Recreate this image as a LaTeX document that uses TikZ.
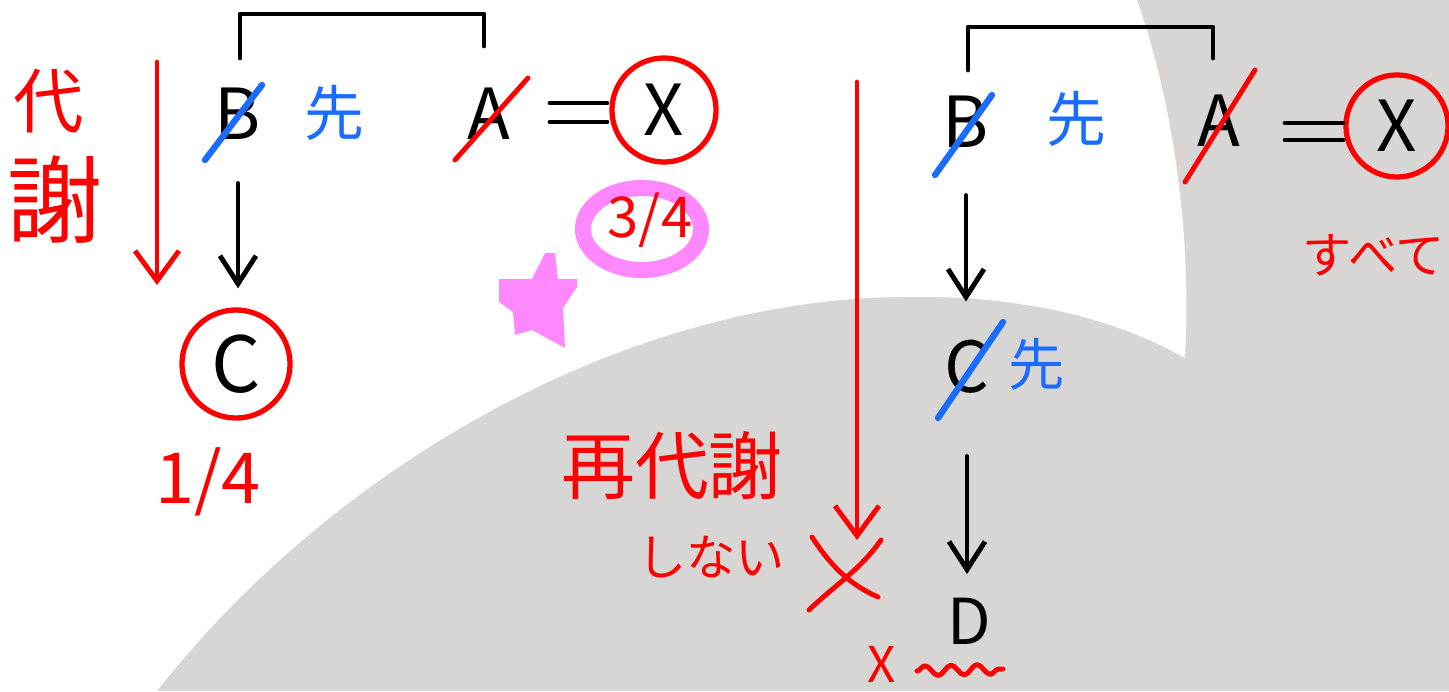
\documentclass[tikz,border=0pt]{standalone}
\usepackage{fontspec}
\setmainfont{Noto Sans CJK JP}
\usepackage{tikz}
\usetikzlibrary{arrows.meta, decorations.pathmorphing}
\definecolor{markRed}{RGB}{255, 0, 0}
\definecolor{markBlue}{RGB}{26, 108, 255}
\definecolor{markPink}{RGB}{255, 136, 255}
\definecolor{paperGray}{RGB}{216, 213, 213}

\begin{document}
\begin{tikzpicture}[x=0.01cm, y=-0.01cm,
    pen/.style={line width=1.4pt, line cap=round, line join=round},
    redpen/.style={pen, draw=markRed},
    bluepen/.style={line width=1.8pt, line cap=round, draw=markBlue},
    letter/.style={inner sep=0pt, font=\fontsize{20}{24}\selectfont},
    circled/.style={letter, circle, draw=markRed, line width=1.5pt, minimum size=1.04cm},
    note/.style={inner sep=0pt, text=markRed},
    barb/.style={-{Straight Barb[length=2.8mm, width=3.6mm]}},
    bigbarb/.style={-{Straight Barb[length=3mm, width=4.4mm]}}]
    % Background (white sheet over a gray disc)
    \fill[paperGray] (0,0) rectangle (1449,691);
    \fill[white] (0,0) -- (1137,0) .. controls (1172,100) and (1192,230) .. (1185,358)
        .. controls (1100,310) and (1000,295) .. (900,297)
        .. controls (620,300) and (330,470) .. (157,691)
        -- (0,691) -- cycle;
    \useasboundingbox (0,0) rectangle (1449,691);

    % Left: first metabolism
    \node[letter] (b1) at (238,114) {B};
    \node[letter] (a1) at (489,114) {A};
    \node[circled] (x1) at (664,110) {X};
    \node[circled, font=\fontsize{22}{26}\selectfont, minimum size=1.08cm] (c1) at (236,364) {C};
    \node[text=markBlue, inner sep=0pt, font=\fontsize{17}{20}\selectfont] (s1) at (334,113) {先};
    \draw[pen] (240,58) |- (484,14) -- (484,46);
    \draw[pen] (550,103) -- (607,103);
    \draw[pen] (550,122) -- (607,122);
    \draw[bluepen] ([shift={(-33,46)}]b1.center) -- ([shift={(24,-29)}]b1.center);
    \draw[redpen] ([shift={(-34,46)}]a1.center) -- ([shift={(39,-36)}]a1.center);
    \draw[pen, barb, shorten <=0.43cm, shorten >=0.19cm] (b1.south) -- (b1.south |- c1.north);
    \node[note, font=\fontsize{20}{24}\selectfont] (q1) at (208,482) {1/4};

    % 3/4 ring and star
    \draw[markPink, line width=0.16cm] (642,229) ellipse [x radius=0.59cm, y radius=0.41cm];
    \node[note, font=\fontsize{16}{20}\selectfont] (q3) at (650,220) {3/4};
    \fill[markPink] (545,253) -- (555,253) -- (558,279) -- (577,279) -- (577,287) -- (563,308)
        -- (565,348) -- (532,330) -- (515,335) -- (513,312) -- (499,302) -- (499,279) -- (532,279) -- cycle;

    % Left red arrow with label
    \draw[redpen, bigbarb] (157,62) -- (157,285);
    \node[note, font=\fontsize{20}{24}\selectfont] (m1) at (49,101) {代};
    \node[note, font=\fontsize{27}{30}\selectfont] (m2) at (55,200) {謝};

    % Right: metabolism again
    \node[letter] (b2) at (966,122) {B};
    \node[letter] (a2) at (1219,121) {A};
    \node[circled, minimum size=1.02cm] (x2) at (1397,126) {X};
    \node[letter] (c2) at (967,367) {C};
    \node[letter, font=\fontsize{18}{22}\selectfont] (d2) at (969,621) {D};
    \node[text=markBlue, inner sep=0pt, font=\fontsize{17}{20}\selectfont] (s2) at (1076,119) {先};
    \node[text=markBlue, inner sep=0pt, font=\fontsize{16}{20}\selectfont] (s3) at (1037,364) {先};
    \draw[pen] (968,70) |- (1213,27) -- (1213,58);
    \draw[pen] (1285,123) -- (1343,123);
    \draw[pen] (1285,140) -- (1343,140);
    \draw[bluepen] ([shift={(-31,53)}]b2.center) -- ([shift={(26,-27)}]b2.center);
    \draw[bluepen] ([shift={(-29,51)}]c2.center) -- ([shift={(36,-45)}]c2.center);
    \draw[redpen] ([shift={(-34,61)}]a2.center) -- ([shift={(36,-51)}]a2.center);
    \draw[pen, barb, shorten <=0.47cm, shorten >=0.38cm] (b2.south) -- (b2.south |- c2.north);
    \draw[pen, barb, shorten <=0.62cm, shorten >=0.23cm] (c2.south) -- (c2.south |- d2.north);
    \node[note, font=\fontsize{14}{18}\selectfont] (all) at (1374,255) {すべて};

    % No re-metabolism
    \draw[redpen, bigbarb] (857,82) -- (857,540);
    \draw[redpen] (812,537) .. controls (830,565) and (850,585) .. (878,597);
    \draw[redpen] (881,540) .. controls (860,570) and (835,585) .. (809,610);
    \node[note, font=\fontsize{21}{24}\selectfont] (re) at (672,466) {再代謝};
    \node[note, font=\fontsize{14}{18}\selectfont] (no) at (711,557) {しない};
    \node[note, font=\fontsize{14}{18}\selectfont] (xx) at (882,664) {X};
    \draw[redpen, decorate, decoration={snake, amplitude=0.5mm, segment length=2.6mm}] (917,671) -- (1003,669);
\end{tikzpicture}
\end{document}
